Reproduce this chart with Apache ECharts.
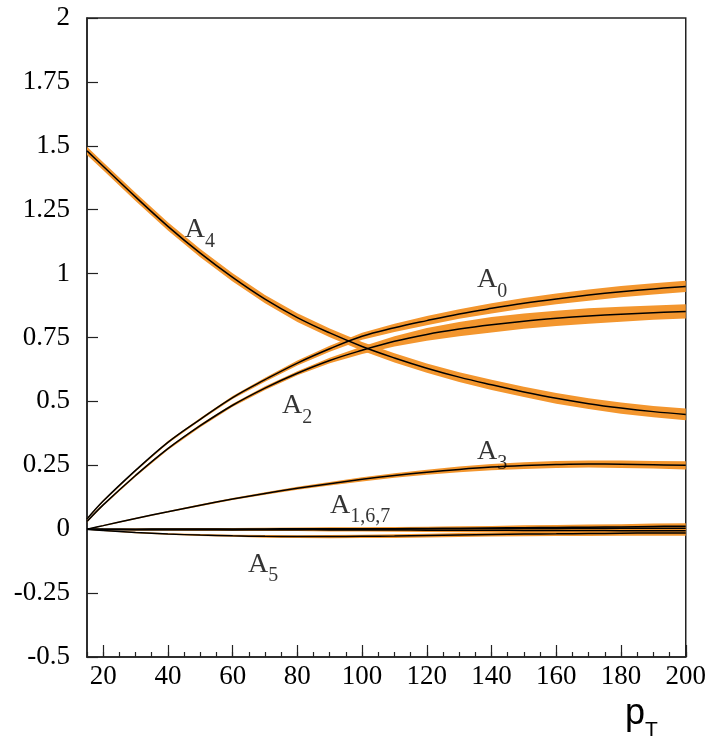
<!DOCTYPE html>
<html>
<head>
<meta charset="utf-8">
<script src="https://cdn.jsdelivr.net/npm/echarts@6/dist/echarts.min.js"></script>
<style>html,body{margin:0;padding:0;background:#fff}#c{width:709px;height:744px}</style>
</head>
<body>
<div id="c"></div>
<script>
// ---- data ----
const pT = [15, 20, 30, 40, 50, 60, 70, 80, 90, 100, 110, 120, 130, 140, 150, 160, 170, 180, 190, 200];

const A0 = [0.04, 0.11, 0.23, 0.34, 0.43, 0.515, 0.585, 0.65, 0.706, 0.755, 0.788, 0.816, 0.842, 0.864, 0.884, 0.901, 0.916, 0.929, 0.94, 0.95];
const A2 = [0.03, 0.095, 0.21, 0.315, 0.405, 0.485, 0.552, 0.61, 0.66, 0.70, 0.735, 0.762, 0.783, 0.80, 0.814, 0.825, 0.834, 0.841, 0.847, 0.852];
const A4 = [1.48, 1.42, 1.30, 1.185, 1.08, 0.985, 0.90, 0.828, 0.768, 0.715, 0.67, 0.63, 0.595, 0.565, 0.537, 0.512, 0.491, 0.474, 0.46, 0.449];
const A3 = [0.0, 0.014, 0.042, 0.068, 0.094, 0.118, 0.14, 0.16, 0.178, 0.195, 0.21, 0.223, 0.234, 0.243, 0.249, 0.253, 0.255, 0.254, 0.252, 0.25];
const A1 = [0.0, 0.0, 0.0, 0.001, 0.001, 0.001, 0.001, 0.002, 0.002, 0.002, 0.002, 0.003, 0.003, 0.003, 0.003, 0.003, 0.004, 0.004, 0.004, 0.004];
const A6 = [0.0, -0.001, -0.002, -0.002, -0.002, -0.002, -0.001, -0.001, 0.0, 0.0, 0.001, 0.002, 0.003, 0.005, 0.006, 0.007, 0.008, 0.009, 0.011, 0.012];
const A7 = [0.0, 0.0, -0.001, -0.001, -0.001, -0.002, -0.002, -0.002, -0.003, -0.003, -0.003, -0.004, -0.004, -0.004, -0.005, -0.005, -0.005, -0.006, -0.006, -0.006];
const A5 = [0.0, -0.005, -0.013, -0.019, -0.023, -0.026, -0.028, -0.029, -0.029, -0.028, -0.027, -0.025, -0.023, -0.021, -0.019, -0.018, -0.017, -0.016, -0.015, -0.015];

// half-widths of the orange uncertainty bands
const errA0 = [0.004, 0.004, 0.004, 0.005, 0.005, 0.006, 0.008, 0.01, 0.012, 0.014, 0.016, 0.018, 0.019, 0.02, 0.021, 0.021, 0.022, 0.022, 0.022, 0.022];
const errA2 = [0.004, 0.004, 0.005, 0.005, 0.006, 0.006, 0.007, 0.008, 0.011, 0.015, 0.02, 0.025, 0.028, 0.03, 0.03, 0.03, 0.03, 0.029, 0.028, 0.028];
const errA4 = [0.016, 0.016, 0.016, 0.016, 0.016, 0.016, 0.016, 0.017, 0.017, 0.017, 0.018, 0.018, 0.019, 0.02, 0.02, 0.021, 0.021, 0.022, 0.022, 0.023];
const errA3 = [0.002, 0.002, 0.003, 0.003, 0.004, 0.004, 0.005, 0.006, 0.007, 0.008, 0.009, 0.01, 0.011, 0.012, 0.013, 0.014, 0.014, 0.015, 0.015, 0.016];
const errSmall = [0.002, 0.002, 0.003, 0.003, 0.004, 0.004, 0.005, 0.005, 0.006, 0.006, 0.007, 0.007, 0.008, 0.008, 0.009, 0.009, 0.01, 0.01, 0.011, 0.011];

const xTickLabels = [20, 40, 60, 80, 100, 120, 140, 160, 180, 200];

// curve annotations: [text name, subscript, x, y]
const curveLabels = [
  ['A', '4', 49.9, 1.172],
  ['A', '0', 140.2, 0.977],
  ['A', '2', 79.9, 0.484],
  ['A', '3', 140.2, 0.302],
  ['A', '1,6,7', 99.4, 0.094],
  ['A', '5', 69.4, -0.137]
];

// ---- chart ----
const ORANGE = '#F3962E';
const curves = [
  { name: 'A0', y: A0, e: errA0 },
  { name: 'A2', y: A2, e: errA2 },
  { name: 'A4', y: A4, e: errA4 },
  { name: 'A3', y: A3, e: errA3 },
  { name: 'A1', y: A1, e: errSmall },
  { name: 'A6', y: A6, e: errSmall },
  { name: 'A7', y: A7, e: errSmall },
  { name: 'A5', y: A5, e: errSmall }
];

function bandSeries(c) {
  return {
    type: 'custom',
    name: c.name + ' band',
    coordinateSystem: 'cartesian2d',
    xAxisIndex: 0, yAxisIndex: 0,
    silent: true,
    z: 2,
    data: [[pT[0], c.y[0]]],
    renderItem: function (params, api) {
      const pts = [];
      for (let i = 0; i < pT.length; i++) pts.push(api.coord([pT[i], c.y[i] + c.e[i]]));
      for (let i = pT.length - 1; i >= 0; i--) pts.push(api.coord([pT[i], c.y[i] - c.e[i]]));
      return { type: 'polygon', shape: { points: pts }, style: { fill: ORANGE, stroke: null } };
    }
  };
}

function lineSeries(c) {
  return {
    type: 'line',
    name: c.name,
    xAxisIndex: 0, yAxisIndex: 0,
    data: pT.map((x, i) => [x, c.y[i]]),
    smooth: 0.4,
    showSymbol: false,
    silent: true,
    z: 5,
    lineStyle: { color: '#000', width: 1.5 }
  };
}

const serif = 'Liberation Serif';
const series = [];
curves.forEach(c => series.push(bandSeries(c)));
curves.forEach(c => series.push(lineSeries(c)));
series.push({
  type: 'scatter',
  xAxisIndex: 0, yAxisIndex: 0,
  symbolSize: 0,
  silent: true,
  z: 10,
  data: curveLabels.map(l => ({ value: [l[2], l[3]], t: l[0], s: l[1] })),
  label: {
    show: true,
    position: 'inside',
    formatter: function (p) { return '{a|' + p.data.t + '}{s|' + p.data.s + '}'; },
    rich: {
      a: { fontFamily: serif, fontSize: 28, lineHeight: 28, color: '#000', verticalAlign: 'top' },
      s: { fontFamily: serif, fontSize: 20, lineHeight: 20, color: '#000', verticalAlign: 'top', padding: [16, 0, 0, 0] }
    }
  }
});

const chart = echarts.init(document.getElementById('c'), null, { renderer: 'canvas' });
chart.setOption({
  animation: false,
  backgroundColor: '#fff',
  grid: { left: 87, top: 18, right: 23, bottom: 87, show: true, borderColor: '#222', borderWidth: 1.5, containLabel: false },
  xAxis: [
    {
      type: 'value', min: 15, max: 200, interval: 5,
      axisLine: { show: true, onZero: false, lineStyle: { color: '#222', width: 1.5 } },
      axisTick: { show: true, inside: true, length: 5, lineStyle: { color: '#222', width: 1.2 } },
      axisLabel: { show: false },
      splitLine: { show: false }
    },
    {
      type: 'value', min: 15, max: 200, position: 'bottom',
      axisLine: { show: false, onZero: false },
      axisTick: { show: true, inside: true, length: 12, customValues: xTickLabels, lineStyle: { color: '#222', width: 1.2 } },
      axisLabel: { show: true, customValues: xTickLabels, margin: 6, fontFamily: serif, fontSize: 27, color: '#000' },
      splitLine: { show: false }
    }
  ],
  yAxis: [{
    type: 'value', min: -0.5, max: 2, interval: 0.25,
    axisLine: { show: true, onZero: false, lineStyle: { color: '#222', width: 1.5 } },
    axisTick: { show: true, inside: true, length: 11, lineStyle: { color: '#222', width: 1.2 } },
    axisLabel: { show: true, margin: 17, fontFamily: serif, fontSize: 27, color: '#000', padding: [6, 0, 0, 0] },
    splitLine: { show: false }
  }],
  graphic: [{
    type: 'text',
    x: 625, y: 696,
    silent: true,
    style: {
      text: '{p|p}{t|T}',
      align: 'left', verticalAlign: 'top',
      rich: {
        p: { fontFamily: 'Liberation Sans', fontSize: 36, lineHeight: 36, color: '#000', verticalAlign: 'top' },
        t: { fontFamily: 'Liberation Sans', fontSize: 21, lineHeight: 21, color: '#000', verticalAlign: 'top', padding: [24, 0, 0, 0] }
      }
    }
  }],
  series: series
});
</script>
</body>
</html>
